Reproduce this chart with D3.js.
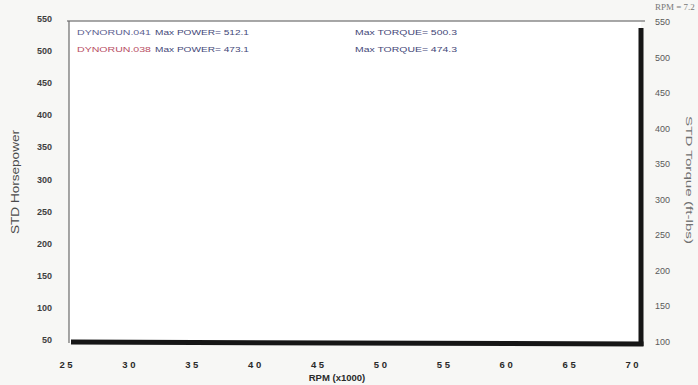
<!DOCTYPE html>
<html>
<head>
<meta charset="utf-8">
<script src="https://cdn.jsdelivr.net/npm/d3@7"></script>
<style>
  html, body { margin: 0; padding: 0; background: #f7f7f5; }
  svg { display: block; }
</style>
</head>
<body>
<svg id="chart" width="698" height="385"></svg>
<script>
const rpmTicks = [2.5, 3.0, 3.5, 4.0, 4.5, 5.0, 5.5, 6.0, 6.5, 7.0];
const hpTicks = [50, 100, 150, 200, 250, 300, 350, 400, 450, 500, 550];
const tqTicks = [100, 150, 200, 250, 300, 350, 400, 450, 500, 550];
const runs = ['DYNORUN.041', 'DYNORUN.038'];
const maxPower = [512.1, 473.1];
const maxTorque = [500.3, 474.3];
const runColors = ['#5c6090', '#b84e64'];

const svg = d3.select('#chart');

const x = d3.scaleLinear().domain([2.5, 7.0]).range([66, 632]);
const yHp = d3.scaleLinear().domain([50, 550]).range([340, 19]);
const yTq = d3.scaleLinear().domain([100, 550]).range([342, 22]);

// plot frame
const plot = { left: 69, right: 641, top: 21, bottom: 343 };
svg.append('rect')
  .attr('x', plot.left)
  .attr('y', plot.top)
  .attr('width', plot.right - plot.left)
  .attr('height', plot.bottom - plot.top)
  .attr('fill', '#ffffff');
svg.append('line')
  .attr('x1', plot.left - 2).attr('x2', plot.right + 4)
  .attr('y1', plot.top).attr('y2', plot.top)
  .attr('stroke', '#8a8a8a').attr('stroke-width', 1.5);
svg.append('line')
  .attr('x1', plot.left).attr('x2', plot.left)
  .attr('y1', plot.top).attr('y2', plot.bottom)
  .attr('stroke', '#6a6a6a').attr('stroke-width', 1.2);
// thick right and bottom borders
svg.append('line')
  .attr('x1', plot.right).attr('x2', plot.right)
  .attr('y1', plot.top + 7).attr('y2', plot.bottom + 3)
  .attr('stroke', '#161616').attr('stroke-width', 5);
svg.append('line')
  .attr('x1', plot.left + 2).attr('x2', plot.right + 2.5)
  .attr('y1', plot.bottom - 1).attr('y2', plot.bottom + 1)
  .attr('stroke', '#161616').attr('stroke-width', 5);

// left axis labels
svg.append('g').selectAll('text')
  .data(hpTicks)
  .join('text')
  .attr('x', 52)
  .attr('y', d => yHp(d))
  .attr('text-anchor', 'end')
  .attr('dominant-baseline', 'central')
  .attr('font-family', 'Liberation Sans, Arial, sans-serif')
  .attr('font-size', 9)
  .attr('font-weight', 'bold')
  .attr('fill', '#3f3f3f')
  .text(d => d);

// right axis labels
svg.append('g').selectAll('text')
  .data(tqTicks)
  .join('text')
  .attr('x', 655)
  .attr('y', d => yTq(d))
  .attr('dominant-baseline', 'central')
  .attr('font-family', 'Liberation Sans, Arial, sans-serif')
  .attr('font-size', 9)
  .attr('fill', '#5a5a5a')
  .text(d => d);

// bottom axis labels
svg.append('g').selectAll('text')
  .data(rpmTicks)
  .join('text')
  .attr('x', d => x(d))
  .attr('y', 368)
  .attr('text-anchor', 'middle')
  .attr('font-family', 'Liberation Sans, Arial, sans-serif')
  .attr('font-size', 9.5)
  .attr('font-weight', 'bold')
  .attr('fill', '#2a2a2a')
  .text(d => d.toFixed(1).replace('.', ' '));

// axis titles
svg.append('text')
  .attr('x', 337).attr('y', 381)
  .attr('text-anchor', 'middle')
  .attr('font-family', 'Liberation Sans, Arial, sans-serif')
  .attr('font-size', 9.5).attr('font-weight', 'bold')
  .attr('fill', '#2a2a2a')
  .text('RPM (x1000)');

svg.append('text')
  .attr('transform', 'translate(19,182) rotate(-90)')
  .attr('text-anchor', 'middle')
  .attr('font-family', 'Liberation Sans, Arial, sans-serif')
  .attr('font-size', 10)
  .attr('textLength', 104)
  .attr('lengthAdjust', 'spacingAndGlyphs')
  .attr('fill', '#4a4a4a')
  .text('STD Horsepower');

svg.append('text')
  .attr('transform', 'translate(686,180) rotate(90)')
  .attr('text-anchor', 'middle')
  .attr('font-family', 'Liberation Sans, Arial, sans-serif')
  .attr('font-size', 9)
  .attr('textLength', 128)
  .attr('lengthAdjust', 'spacingAndGlyphs')
  .attr('fill', '#707070')
  .text('STD Torque (ft-lbs)');

svg.append('text')
  .attr('x', 655).attr('y', 10)
  .attr('font-family', 'Liberation Serif, Times New Roman, serif')
  .attr('font-size', 9)
  .attr('fill', '#777')
  .text('RPM = 7.2');

// legend lines
const legend = svg.append('g')
  .attr('font-family', 'Liberation Sans, Arial, sans-serif')
  .attr('font-size', 6.5);
runs.forEach((r, i) => {
  const yy = 35 + i * 17;
  legend.append('text')
    .attr('x', 77).attr('y', yy)
    .attr('textLength', 74)
    .attr('lengthAdjust', 'spacingAndGlyphs')
    .attr('fill', runColors[i])
    .text(r);
  legend.append('text')
    .attr('x', 155).attr('y', yy)
    .attr('textLength', 94)
    .attr('lengthAdjust', 'spacingAndGlyphs')
    .attr('fill', '#434778')
    .text('Max POWER= ' + maxPower[i].toFixed(1));
  legend.append('text')
    .attr('x', 355).attr('y', yy)
    .attr('textLength', 102)
    .attr('lengthAdjust', 'spacingAndGlyphs')
    .attr('fill', '#434778')
    .text('Max TORQUE= ' + maxTorque[i].toFixed(1));
});
</script>
</body>
</html>
